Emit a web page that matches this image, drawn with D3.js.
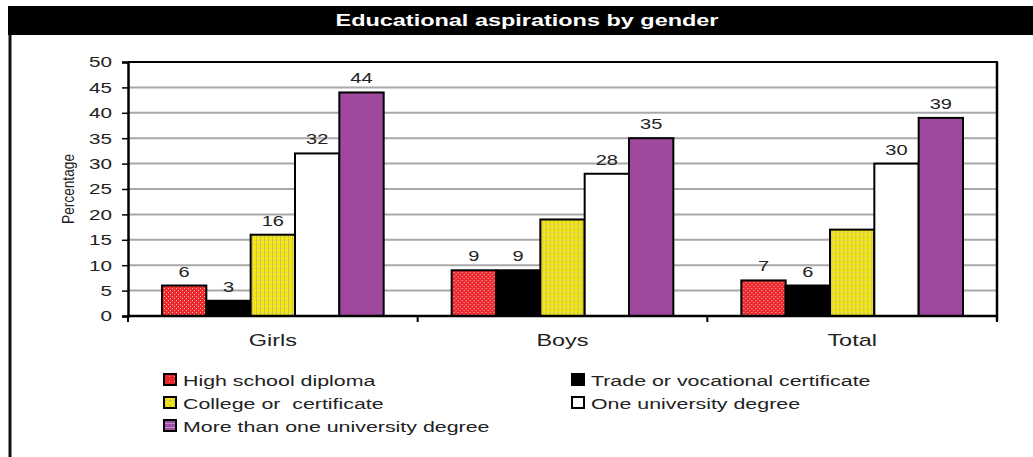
<!DOCTYPE html>
<html>
<head>
<meta charset="utf-8">
<script src="https://cdn.jsdelivr.net/npm/d3@7"></script>
<style>
  html, body { margin: 0; padding: 0; background: #fff; }
  svg { display: block; font-family: "Liberation Sans", Arial, sans-serif; }
</style>
</head>
<body>
<svg id="chart" width="1033" height="457"></svg>
<script>
const categories = ["Girls", "Boys", "Total"];
const seriesNames = [
  "High school diploma",
  "Trade or vocational certificate",
  "College or  certificate",
  "One university degree",
  "More than one university degree"
];
const highSchool = [6, 9, 7];
const trade = [3, 9, 6];
const college = [16, 19, 17];
const university = [32, 28, 30];
const moreThanOne = [44, 35, 39];
// labels shown on the chart (null = not labelled in the original)
const highSchoolLabels = [6, 9, 7];
const tradeLabels = [3, 9, 6];
const collegeLabels = [16, null, null];
const universityLabels = [32, 28, 30];
const moreThanOneLabels = [44, 35, 39];
const yTicks = [0, 5, 10, 15, 20, 25, 30, 35, 40, 45, 50];
const title = "Educational aspirations by gender";
const yTitle = "Percentage";

const seriesValues = [highSchool, trade, college, university, moreThanOne];
const seriesLabels = [highSchoolLabels, tradeLabels, collegeLabels, universityLabels, moreThanOneLabels];
const fills = ["url(#pRed)", "#000", "url(#pYellow)", "#fff", "#a0489e"];
const legendFills = ["url(#pRedL)", "#000", "url(#pYellowL)", "#fff", "url(#pPurpleL)"];
const SX = 1.38; // horizontal stretch of text in the original

const svg = d3.select("#chart");
const defs = svg.append("defs");

const pr = defs.append("pattern").attr("id", "pRed").attr("patternUnits", "userSpaceOnUse").attr("width", 4).attr("height", 4);
pr.append("rect").attr("width", 4).attr("height", 4).attr("fill", "#ec2a2e");
pr.append("rect").attr("x", 0).attr("y", 0).attr("width", 1).attr("height", 1).attr("fill", "#f7b8b8");
pr.append("rect").attr("x", 2).attr("y", 2).attr("width", 1).attr("height", 1).attr("fill", "#f7b8b8");
const py = defs.append("pattern").attr("id", "pYellow").attr("patternUnits", "userSpaceOnUse").attr("width", 4).attr("height", 4);
py.append("rect").attr("width", 4).attr("height", 4).attr("fill", "#f6ea0c");
py.append("rect").attr("x", 0).attr("y", 0).attr("width", 1).attr("height", 4).attr("fill", "#c9bf55");
py.append("rect").attr("x", 0).attr("y", 0).attr("width", 4).attr("height", 0.6).attr("fill", "#d8cf6a");
const prl = defs.append("pattern").attr("id", "pRedL").attr("patternUnits", "userSpaceOnUse").attr("width", 5).attr("height", 5);
prl.append("rect").attr("width", 5).attr("height", 5).attr("fill", "#e8262b");
prl.append("rect").attr("x", 1).attr("y", 1).attr("width", 1).attr("height", 1).attr("fill", "#f4a9a9");
const pyl = defs.append("pattern").attr("id", "pYellowL").attr("patternUnits", "userSpaceOnUse").attr("width", 5).attr("height", 5);
pyl.append("rect").attr("width", 5).attr("height", 5).attr("fill", "#ece11a");
pyl.append("rect").attr("x", 1).attr("y", 2).attr("width", 2).attr("height", 1).attr("fill", "#b9b170");
const ppl = defs.append("pattern").attr("id", "pPurpleL").attr("patternUnits", "userSpaceOnUse").attr("width", 5).attr("height", 4);
ppl.append("rect").attr("width", 5).attr("height", 4).attr("fill", "#a24ea8");
ppl.append("rect").attr("x", 0).attr("y", 1).attr("width", 5).attr("height", 0.8).attr("fill", "#c99acb");

// title band
svg.append("rect").attr("x", 8).attr("y", 6).attr("width", 1025).attr("height", 29).attr("fill", "#000");
svg.append("text").attr("transform", `translate(527,26) scale(${SX},1)`).attr("text-anchor", "middle")
  .attr("fill", "#fff").attr("font-weight", "bold").attr("font-size", 17).text(title);
// left border
svg.append("line").attr("x1", 10).attr("x2", 10).attr("y1", 35).attr("y2", 457)
  .attr("stroke", "#111").attr("stroke-width", 3);

const plotLeft = 128, plotRight = 997, plotTop = 62, plotBottom = 316;
const x0 = d3.scaleBand().domain(categories).range([plotLeft, plotRight]).paddingInner(0).paddingOuter(0);
const x1 = d3.scaleBand().domain(d3.range(seriesNames.length)).range([34, x0.bandwidth() - 34]).padding(0);
const y = d3.scaleLinear().domain([0, 50]).range([plotBottom, plotTop]);

svg.append("g").selectAll("line").data(yTicks.filter(t => t > 0 && t < 50)).join("line")
  .attr("x1", plotLeft).attr("x2", plotRight).attr("y1", d => y(d)).attr("y2", d => y(d))
  .attr("stroke", "#a8a8a8").attr("stroke-width", 2);
svg.append("line").attr("x1", plotLeft).attr("x2", plotRight + 1).attr("y1", y(50)).attr("y2", y(50)).attr("stroke", "#000").attr("stroke-width", 2);
svg.append("line").attr("x1", plotRight).attr("x2", plotRight).attr("y1", y(50)).attr("y2", plotBottom + 5).attr("stroke", "#000").attr("stroke-width", 2.5);

const yAxis = svg.append("g").attr("transform", `translate(${plotLeft},0)`)
  .call(d3.axisLeft(y).tickValues(yTicks).tickSize(6).tickPadding(10));
yAxis.select(".domain").attr("stroke", "#000").attr("stroke-width", 2.5);
yAxis.selectAll(".tick line").attr("stroke", "#000").attr("stroke-width", 1.5);
yAxis.selectAll(".tick text").attr("font-size", 15).attr("fill", "#222")
  .attr("font-family", "Liberation Sans, Arial, sans-serif")
  .attr("x", -16 / SX).attr("transform", `scale(${SX},1)`);

const groups = svg.append("g").selectAll("g").data(categories).join("g")
  .attr("transform", d => `translate(${x0(d)},0)`);
groups.selectAll("rect").data((c, ci) => seriesValues.map((s, si) => ({ si, v: s[ci] }))).join("rect")
  .attr("x", d => x1(d.si)).attr("width", x1.bandwidth())
  .attr("y", d => y(d.v)).attr("height", d => y(0) - y(d.v))
  .attr("fill", d => fills[d.si]).attr("stroke", "#000").attr("stroke-width", 2);
groups.selectAll("text").data((c, ci) => seriesLabels.map((s, si) => ({ si, v: seriesValues[si][ci], l: s[ci] })).filter(d => d.l !== null)).join("text")
  .attr("transform", d => `translate(${x1(d.si) + x1.bandwidth() / 2},${y(d.v) - 9}) scale(${SX},1)`)
  .attr("text-anchor", "middle").attr("font-size", 14.5).attr("fill", "#222").text(d => d.l);

const xAxis = svg.append("g").attr("transform", `translate(0,${plotBottom})`)
  .call(d3.axisBottom(x0).tickSize(0).tickPadding(18));
xAxis.select(".domain").remove();
xAxis.selectAll(".tick text").attr("font-size", 17).attr("fill", "#222")
  .attr("font-family", "Liberation Sans, Arial, sans-serif")
  .attr("transform", `scale(${SX},1)`);
svg.append("line").attr("x1", plotLeft).attr("x2", plotRight).attr("y1", plotBottom).attr("y2", plotBottom).attr("stroke", "#000").attr("stroke-width", 2.5);
svg.append("g").selectAll("line").data(categories.map(c => x0(c)).concat([plotRight])).join("line")
  .attr("x1", d => d).attr("x2", d => d).attr("y1", plotBottom).attr("y2", plotBottom + 6)
  .attr("stroke", "#000").attr("stroke-width", 2);

svg.append("text").attr("transform", `translate(74,189) scale(${SX},1) rotate(-90)`).attr("text-anchor", "middle")
  .attr("font-size", 12).attr("fill", "#222").attr("textLength", 70).attr("lengthAdjust", "spacingAndGlyphs").text(yTitle);

const legendPos = [[163, 380], [571, 380], [163, 403], [571, 403], [163, 426]];
const lg = svg.append("g").selectAll("g").data(seriesNames).join("g")
  .attr("transform", (d, i) => `translate(${legendPos[i][0]},${legendPos[i][1]})`);
lg.append("rect").attr("x", 1).attr("y", -6).attr("width", 12).attr("height", 11)
  .attr("fill", (d, i) => legendFills[i]).attr("stroke", "#000").attr("stroke-width", 2);
lg.append("text").attr("transform", `translate(20,6) scale(${SX},1)`)
  .style("white-space", "pre").attr("xml:space", "preserve")
  .attr("font-size", 15.5).attr("fill", "#222").text(d => d);
</script>
</body>
</html>
